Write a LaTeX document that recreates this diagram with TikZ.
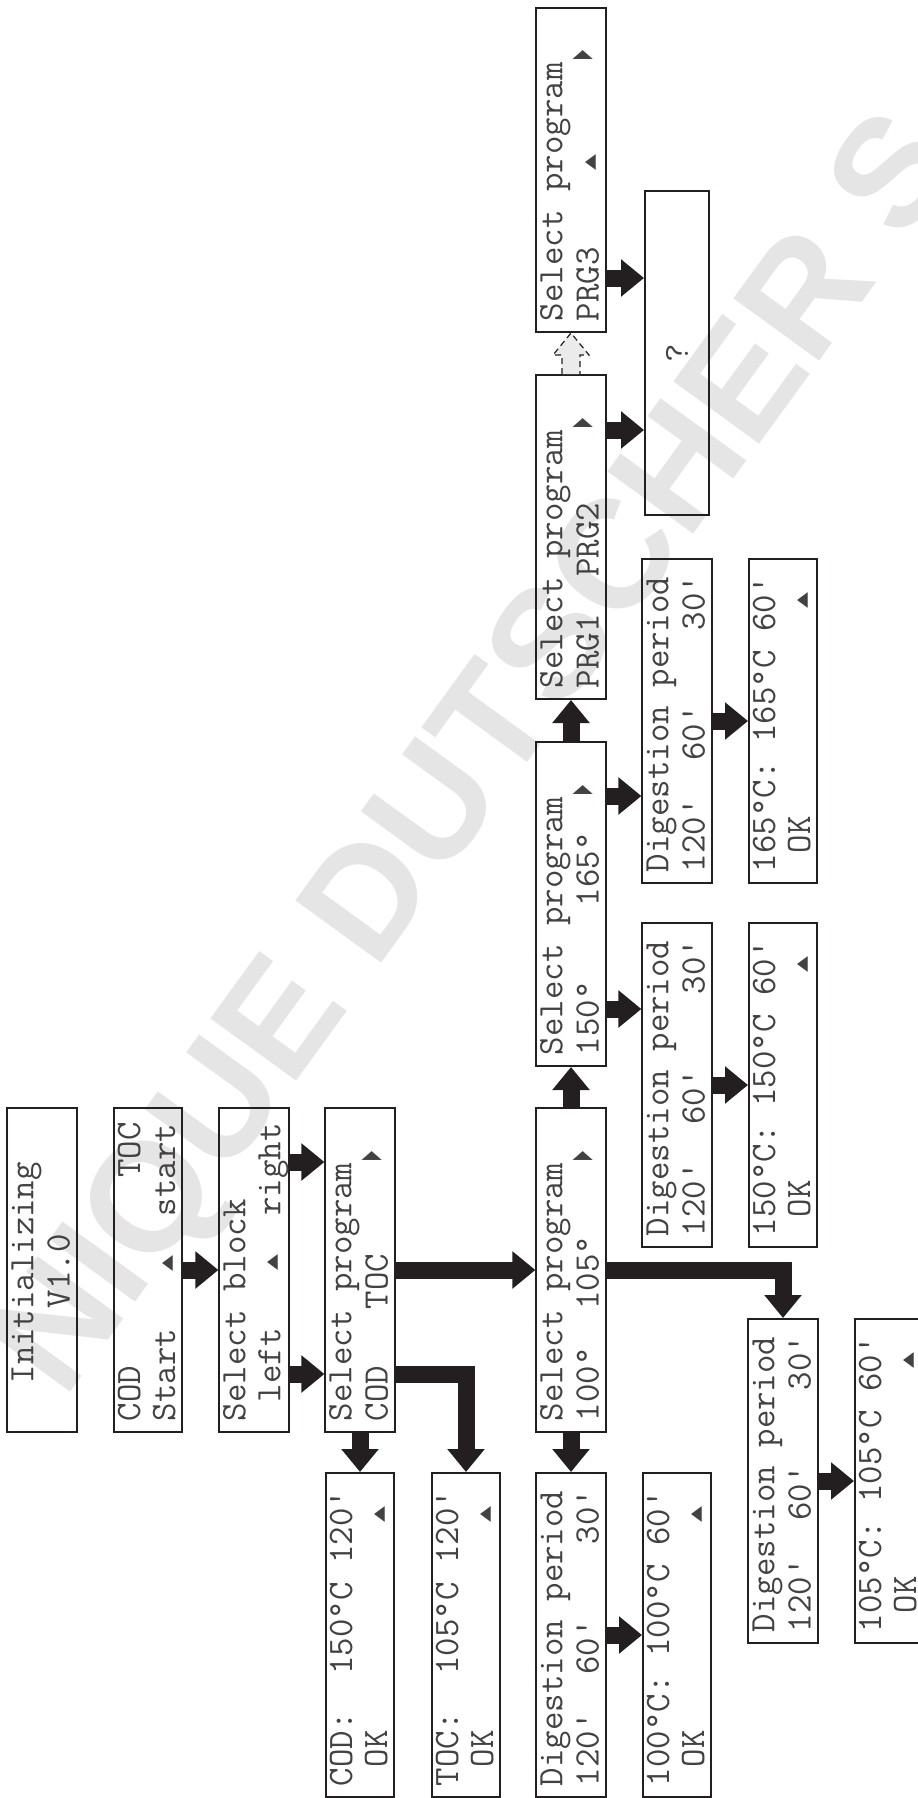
\documentclass[tikz,border=0pt]{standalone}
\usepackage{fontspec}
\usepackage{graphicx}
\usetikzlibrary{arrows.meta,calc}
\newfontfamily\symfont{DejaVu Sans}
\newfontfamily\markfont{Liberation Sans}
\definecolor{ink}{RGB}{35,31,32}
\newcommand\lcdstrut{\rule[-3.5pt]{0pt}{16.5pt}}
\newcommand\lcd[2]{\lineskiplimit=-100pt\spaceskip=.525em\xspaceskip=.525em\relax
  \lcdstrut#1\\\lcdstrut#2}
\newcommand\lcdup{\makebox[.525em]{\raisebox{2pt}{\resizebox{8pt}{4.5pt}{\symfont ▲}}}}
\newcommand\lcdnext{\makebox[.525em][l]{\raisebox{4.5pt}{\resizebox{4.5pt}{8.5pt}{\symfont ▶}}}}
\tikzset{
  screen/.style={draw=ink,line width=1pt,rotate=90,minimum width=162pt,
    minimum height=32pt,inner xsep=5.5pt,inner ysep=0pt,text width=151pt,
    align=left,text=ink!85,font=\ttfamily\fontsize{17.9}{15.5}\selectfont},
  push/.style={ink,line width=8.5pt,-{Triangle[length=11.5pt,width=18pt]}},
}

\begin{document}
\begin{tikzpicture}[x=0.5pt,y=-0.5pt]
  \useasboundingbox (0,0) rectangle (917,1798);
  \node[text=black!10,font=\markfont\bfseries\fontsize{77}{77}\selectfont,
    rotate=54,anchor=base west,inner sep=0pt] (mark) at (64,1401)
    {NIQUE DUTSCHER S};

  \node[screen] (init) at (42,1270) {\lcd{\ \ Initializing}{\ \ \ \ \ \ V1.0}};
  \node[screen] (start) at (148,1270)
    {\lcd{COD\ \ \ \ \ \ \ \ \ \ TOC}{Start\ \ \ \lcdup\ \ start}};
  \node[screen] (block) at (254,1270)
    {\lcd{Select block}{\ left\ \ \ \lcdup\ \ right}};
  \node[screen] (selsum) at (360,1270)
    {\lcd{Select program}{COD\ \ \ TOC\ \ \ \ \ \lcdnext}};
  \node[screen] (cod) at (360,1635)
    {\lcd{COD:\ \ 150°C 120'}{\ OK\ \ \ \ \ \ \ \ \ \ \ \lcdup}};
  \node[screen] (toc) at (466,1635)
    {\lcd{TOC:\ \ 105°C 120'}{\ OK\ \ \ \ \ \ \ \ \ \ \ \lcdup}};
  \node[screen] (seltemp) at (571,1270)
    {\lcd{Select program}{100°\ \ 105°\ \ \ \ \lcdnext}};
  \node[screen] (dig100) at (571,1635)
    {\lcd{Digestion period}{120'\ \ 60'\ \ \ \ 30'}};
  \node[screen] (ok100) at (677,1635)
    {\lcd{100°C: 100°C 60'}{\ OK\ \ \ \ \ \ \ \ \ \ \ \lcdup}};
  \node[screen] (dig105) at (783,1481)
    {\lcd{Digestion period}{120'\ \ 60'\ \ \ \ 30'}};
  \node[screen] (ok105) at (889,1481)
    {\lcd{105°C: 105°C 60'}{\ OK\ \ \ \ \ \ \ \ \ \ \ \lcdup}};
  \node[screen] (selhot) at (571,904)
    {\lcd{Select program}{150°\ \ \ \ 165°\ \ \lcdnext}};
  \node[screen] (dig150) at (677,1085)
    {\lcd{Digestion period}{120'\ \ 60'\ \ \ \ 30'}};
  \node[screen] (ok150) at (783,1085)
    {\lcd{150°C: 150°C 60'}{\ OK\ \ \ \ \ \ \ \ \ \ \ \lcdup}};
  \node[screen] (dig165) at (677,721)
    {\lcd{Digestion period}{120'\ \ 60'\ \ \ \ 30'}};
  \node[screen] (ok165) at (783,721)
    {\lcd{165°C: 165°C 60'}{\ OK\ \ \ \ \ \ \ \ \ \ \ \lcdup}};
  \node[screen] (selprg) at (571,537)
    {\lcd{Select program}{PRG1\ \ PRG2\ \ \ \ \lcdnext}};
  \node[screen,align=center] (unknown) at (677,353) {?};
  \node[screen] (prg3) at (571,170)
    {\lcd{Select program}{PRG3\ \ \ \ \lcdup\ \ \ \ \ \lcdnext}};

  \draw[push] (start.south) -- (block.north);
  \draw[push] ($(block.south)+(0,-108)$) -- ($(selsum.north)+(0,-108)$);
  \draw[push] ($(block.south)+(0,104)$) -- ($(selsum.north)+(0,104)$);
  \draw[push] (selsum.west) -- (cod.east);
  \draw[push] (selsum.south) -- (seltemp.north);
  \draw[push] ($(selsum.south)+(0,104)$) -| (toc.east);
  \draw[push] (seltemp.west) -- (dig100.east);
  \draw[push] (dig100.south) -- (ok100.north);
  \draw[push] (seltemp.south) -| (dig105.east);
  \draw[push] (dig105.south) -- (ok105.north);
  \draw[push] (seltemp.east) -- (selhot.west);
  \draw[push] ($(selhot.south)+(0,105)$) -- ($(dig150.north)+(0,-76)$);
  \draw[push] ($(selhot.south)+(0,-108)$) -- ($(dig165.north)+(0,75)$);
  \draw[push] (dig150.south) -- (ok150.north);
  \draw[push] (dig165.south) -- (ok165.north);
  \draw[push] (selhot.east) -- (selprg.west);
  \draw[push] ($(selprg.south)+(0,-107)$) -- ($(unknown.north)+(0,77)$);
  \draw[push] ($(prg3.south)+(0,108)$) -- ($(unknown.north)+(0,-75)$);
  \draw[ink,densely dashed,fill=black!8,line width=.6pt]
    ($(selprg.east)+(-9,0)$) -- ++(0,-19) -- ++(-9,0) -- (prg3.west)
    -- ($(selprg.east)+(18,-19)$) -- ++(-9,0) -- ($(selprg.east)+(9,0)$);
\end{tikzpicture}
\end{document}
